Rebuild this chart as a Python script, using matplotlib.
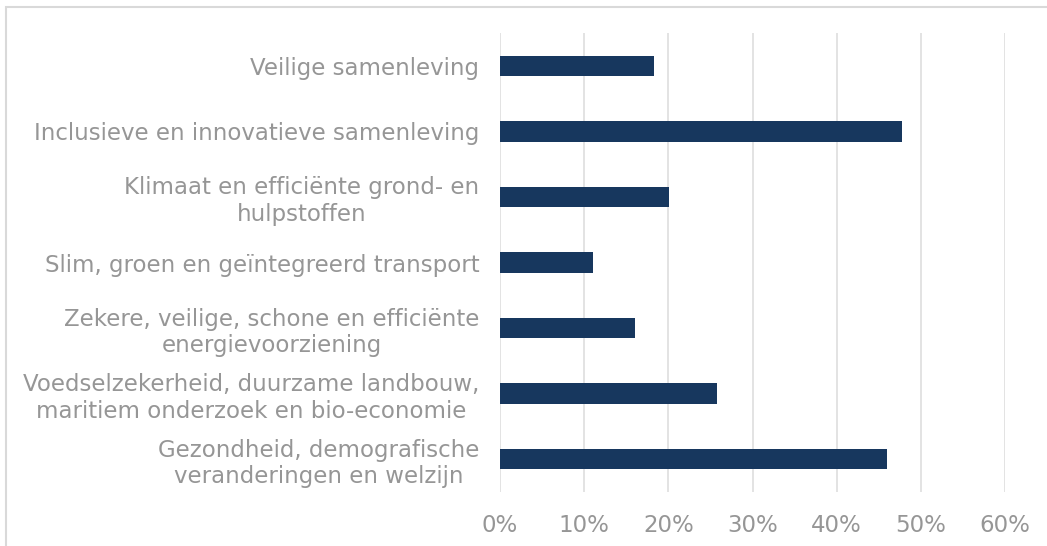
import matplotlib.pyplot as plt
from matplotlib.patches import Rectangle
from matplotlib.ticker import PercentFormatter

categories = [
    "Veilige samenleving",
    "Inclusieve en innovatieve samenleving",
    "Klimaat en efficiënte grond- en\nhulpstoffen",
    "Slim, groen en geïntegreerd transport",
    "Zekere, veilige, schone en efficiënte\nenergievoorziening",
    "Voedselzekerheid, duurzame landbouw,\nmaritiem onderzoek en bio-economie",
    "Gezondheid, demografische\nveranderingen en welzijn",
]
shares = [18.3, 47.8, 20.1, 11.1, 16.0, 25.8, 46.0]
x_ticks = [0, 10, 20, 30, 40, 50, 60]

bar_color = "#17375e"
text_color = "#969696"
grid_color = "#e0e0e0"

fig = plt.figure(figsize=(10.47, 5.46), dpi=100)
ax = fig.add_axes([500 / 1047, 1 - 492 / 546, 505 / 1047, 459 / 546])

ypos = list(range(len(categories)))
ax.barh(ypos, shares, height=0.31, color=bar_color, zorder=3)
ax.set_ylim(len(categories) - 0.5, -0.5)
ax.set_xlim(0, 60)

ax.set_xticks(x_ticks)
ax.xaxis.set_major_formatter(PercentFormatter(decimals=0))
ax.set_yticks(ypos)
ax.set_yticklabels(categories, multialignment="center")

ax.grid(axis="x", color=grid_color, linewidth=1.3, zorder=0)
for s in ax.spines.values():
    s.set_visible(False)
ax.tick_params(axis="both", length=0, colors=text_color, labelsize=16.5)
ax.tick_params(axis="y", pad=15)
ax.tick_params(axis="x", pad=16)

# light frame around the chart (only top and left visible)
fig.patches.append(Rectangle((6 / 1047, -0.1), 1.2, 1.1 - 7 / 546,
                             transform=fig.transFigure, fill=False,
                             edgecolor="#d9d9d9", linewidth=1.5))

fig.savefig("out.png", dpi=100)
